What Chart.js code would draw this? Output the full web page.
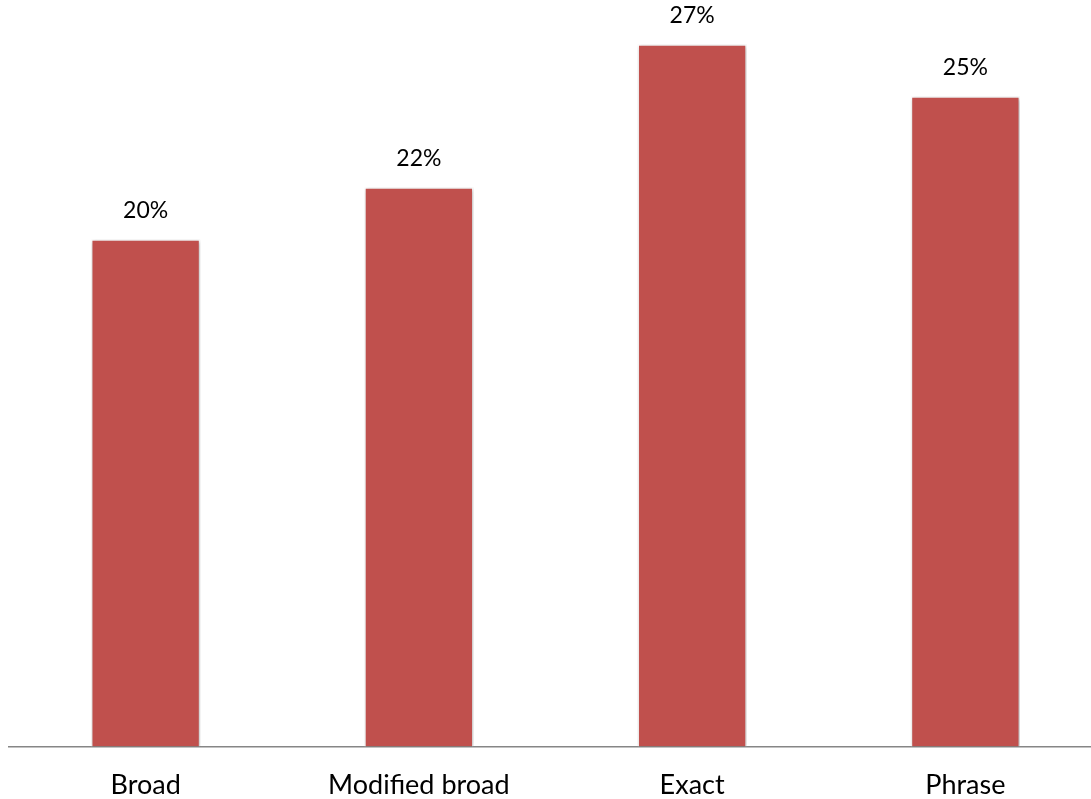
<!DOCTYPE html>
<html>
<head>
<meta charset="utf-8">
<script src="https://cdn.jsdelivr.net/npm/chart.js@4.4.1/dist/chart.umd.min.js"></script>
<style>
  html, body { margin: 0; padding: 0; background: #ffffff; overflow: hidden; }
  #wrap { width: 1102px; height: 823px; }
</style>
</head>
<body>
<div id="wrap"><canvas id="ch-match"></canvas></div>
<script>
// match types and share of clicks (%)
const categories = ["Broad", "Modified broad", "Exact", "Phrase"];
const shareValues = [19.5, 21.5, 27.0, 25.0];

const FONT = "Lato, 'Open Sans', sans-serif";

// value labels on top of each bar
const barLabels = {
  id: "barLabels",
  afterDatasetsDraw(chart) {
    const ctx = chart.ctx;
    const meta = chart.getDatasetMeta(0);
    ctx.save();
    ctx.fillStyle = "#000000";
    ctx.font = "23px " + FONT;
    ctx.textAlign = "center";
    ctx.textBaseline = "bottom";
    meta.data.forEach((bar, i) => {
      ctx.fillText(Math.round(shareValues[i]) + "%", bar.x, bar.y - 17);
    });
    ctx.restore();
  }
};

// soft shadow behind the bars
const barShadow = {
  id: "barShadow",
  beforeDatasetsDraw(chart) {
    const ctx = chart.ctx;
    ctx.save();
    ctx.shadowColor = "rgba(0,0,0,0.28)";
    ctx.shadowBlur = 4;
    ctx.shadowOffsetX = 1;
    ctx.shadowOffsetY = 1;
  },
  afterDatasetsDraw(chart) {
    chart.ctx.restore();
  }
};

new Chart(document.getElementById("ch-match"), {
  type: "bar",
  data: {
    labels: categories,
    datasets: [{
      data: shareValues,
      backgroundColor: "#C0504D",
      borderColor: "#ffffff",
      borderWidth: 1.5,
      borderSkipped: "bottom",
      barPercentage: 0.8,
      categoryPercentage: 0.5
    }]
  },
  options: {
    responsive: true,
    maintainAspectRatio: false,
    animation: false,
    layout: { padding: { left: 9, right: 0, top: 0, bottom: 0 } },
    plugins: {
      legend: { display: false },
      tooltip: { enabled: false }
    },
    scales: {
      x: {
        grid: { display: false, drawTicks: false },
        border: { display: true, color: "#868686", width: 1.5 },
        ticks: { color: "#000000", font: { family: FONT, size: 27 }, padding: 22 }
      },
      y: {
        display: false,
        min: 0,
        max: 28.7
      }
    }
  },
  plugins: [barShadow, barLabels]
});
</script>
</body>
</html>
